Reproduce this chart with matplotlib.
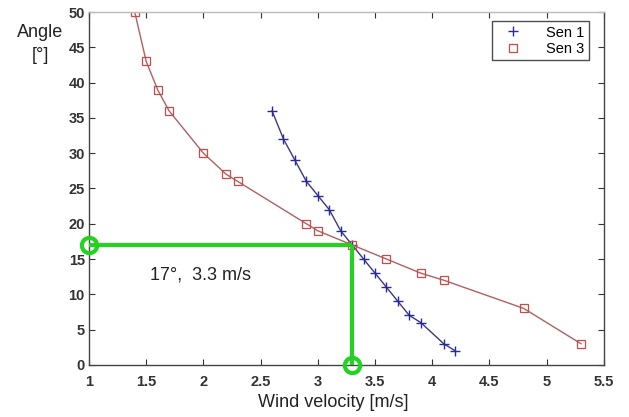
import matplotlib.pyplot as plt
import numpy as np

plt.rcParams['font.family'] = ['Liberation Sans', 'DejaVu Sans']

# Sen 1 (blue +)
sen1_v = [2.6, 2.7, 2.8, 2.9, 3.0, 3.1, 3.2, 3.3, 3.4, 3.5, 3.6, 3.7, 3.8, 3.9, 4.1, 4.2]
sen1_a = [36, 32, 29, 26, 24, 22, 19, 17, 15, 13, 11, 9, 7, 6, 3, 2]

# Sen 3 (red squares)
sen3_v = [1.4, 1.5, 1.6, 1.7, 2.0, 2.2, 2.3, 2.9, 3.0, 3.3, 3.6, 3.9, 4.1, 4.8, 5.3]
sen3_a = [50, 43, 39, 36, 30, 27, 26, 20, 19, 17, 15, 13, 12, 8, 3]

# crossing point marked in green
cross_v = 3.3
cross_a = 17

fig = plt.figure(figsize=(6.29, 4.17), dpi=100)
ax = fig.add_axes([0.1415, 0.125, 0.8185, 0.846])

ax.plot(sen1_v, sen1_a, color='#3a3a78', lw=1.0, marker='+', ms=7, mec='#2a2aa0', mew=1.0, label='Sen 1')
ax.plot(sen3_v, sen3_a, color='#b06060', lw=1.0, marker='s', ms=6, mfc='none', mec='#c84a4a', mew=0.9, label='Sen 3')

green = '#22d322'
ax.plot([1, cross_v], [cross_a, cross_a], color=green, lw=3, solid_capstyle='butt', clip_on=False, zorder=5)
ax.plot([cross_v, cross_v], [cross_a, 0], color=green, lw=3, solid_capstyle='butt', clip_on=False, zorder=5)
ax.plot([1, cross_v], [cross_a, 0], ls='none', marker='o', ms=11, mfc='none', mec=green, mew=3, clip_on=False, zorder=6)

ax.text(1.53, 12.8, '17°,  3.3 m/s', fontsize=13, va='center', ha='left', color='#222222')

ax.set_xlim(1, 5.5)
ax.set_ylim(0, 50)
ax.set_xticks(np.arange(1, 5.51, 0.5))
ax.set_xticklabels(['1', '1.5', '2', '2.5', '3', '3.5', '4', '4.5', '5', '5.5'])
ax.set_yticks(np.arange(0, 51, 5))
ax.tick_params(direction='in', top=True, right=True, length=4, labelsize=10.5, colors='#333333', pad=3)
ax.tick_params(axis='x', pad=7)
for lab in ax.get_xticklabels() + ax.get_yticklabels():
    lab.set_fontweight('bold')
for s in ax.spines.values():
    s.set_color('#444444')
    s.set_linewidth(1.0)
ax.spines['top'].set_color('#bbbbbb')

fig.text(0.064, 0.895, 'Angle\n[°]', ha='center', va='center', fontsize=13, color='#222222', linespacing=1.5)
fig.text(0.53, 0.035, 'Wind velocity [m/s]', ha='center', va='center', fontsize=13, color='#222222')

leg = ax.legend(loc='upper right', bbox_to_anchor=(0.985, 0.995), fontsize=10.5, frameon=True, fancybox=False,
                edgecolor='#222222', borderpad=0.3, handlelength=2.2, handletextpad=1.2, labelspacing=0.15)
for h in leg.get_lines():
    h.set_linestyle('none')
leg.get_frame().set_linewidth(1.0)

fig.savefig('out.png', dpi=100)
